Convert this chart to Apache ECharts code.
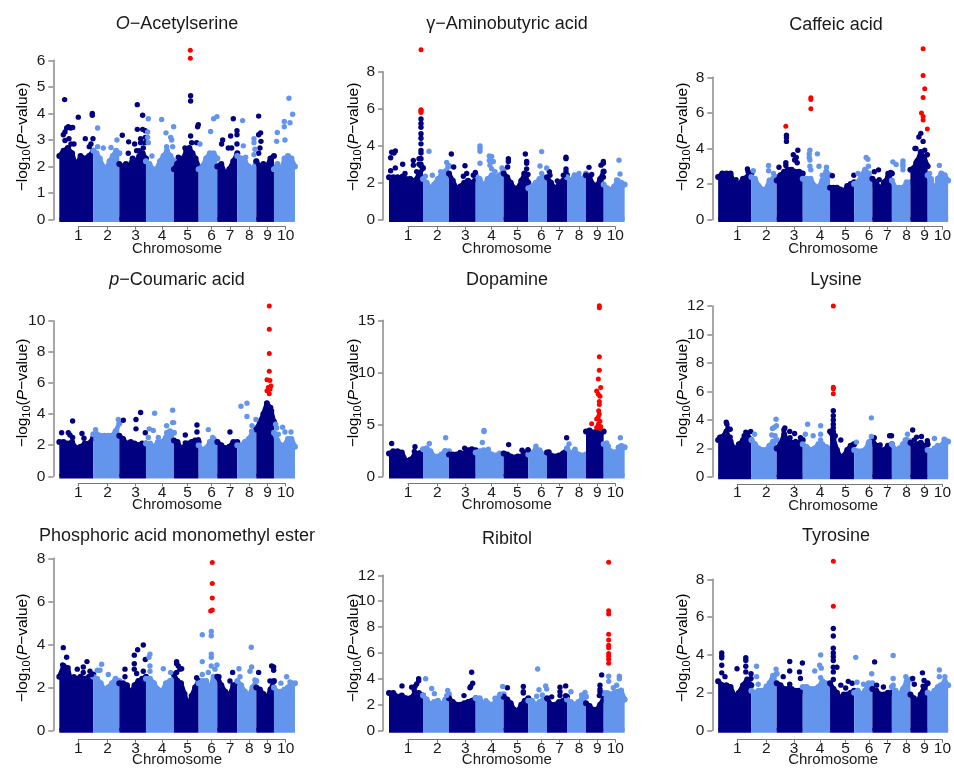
<!DOCTYPE html>
<html>
<head>
<meta charset="utf-8">
<style>html,body{margin:0;padding:0;background:#fff}#c{width:954px;height:768px}</style>
<script src="https://cdn.jsdelivr.net/npm/echarts@6/dist/echarts.min.js"></script>
</head>
<body>
<div id="c"></div>
<script>
// ---- shared axis data ----
const chromLabels = ['1','2','3','4','5','6','7','8','9','10'];
const chromTicks = [57,145,229,308,385,457,512,570,625,679];
const chromStarts = [0,102,180,260,344,418,474,534,591,644,707];

// ---- O-Acetylserine ----
const oasEnvelope = [[2.4,2.6,2.7,2.5,2.0,2.4,2.3,2.4,2.6],[2.6,2.5,2.3,2.0,1.9,2.2,2.4,2.6,2.5],[2.1,2.0,2.1,2.0,2.3,2.2,2.4,2.5,2.3],[2.2,2.1,1.9,1.9,2.2,2.4,2.6,2.4,2.2],[1.9,2.1,2.3,2.3,2.6,2.7,2.5,2.3,2.0],[1.9,2.0,2.3,2.5,2.5,2.3],[2.0,2.1,1.7,1.9,2.2,2.5],[2.4,2.3,2.2,2.0,1.9,2.2],[2.2,2.0,2.1,2.0,2.3,2.4],[1.9,2.1,1.8,2.3,2.4,2.3,2.0]];
const oasPoints = [[16,4.52],[12,3.2],[17,3.3],[22,3.45],[27,3.5],[34,3.45],[40,3.47],[17,2.98],[29,3.05],[35,2.85],[44,2.85],[57,3.86],[78,3.05],[99,4.0],[99,3.93],[101,3.05],[90,2.75],[27,2.7],[95,2.85],[115,3.45],[115,2.75],[132,2.7],[155,2.72],[173,3.0],[189,3.18],[208,2.93],[226,2.85],[234,4.33],[234,3.4],[250,3.93],[250,3.4],[244,3.05],[244,2.9],[258,3.35],[258,3.1],[207,2.5],[232,2.6],[240,2.6],[252,2.7],[257,2.9],[267,3.8],[265,3.3],[265,3.1],[267,2.9],[278,2.4],[307,3.77],[320,3.27],[334,3.1],[343,3.5],[337,3.0],[322,2.75],[340,2.75],[394,4.67],[394,4.47],[394,3.15],[417,3.58],[415,3.5],[397,2.9],[377,2.7],[412,2.9],[357,2.35],[422,2.85],[454,3.32],[463,3.8],[473,3.88],[522,3.8],[533,3.35],[533,3.2],[514,3.15],[490,3.0],[487,2.85],[533,2.85],[517,2.7],[507,2.7],[550,3.73],[552,2.78],[559,2.35],[584,3.05],[584,2.9],[587,2.65],[584,2.45],[598,3.9],[604,3.27],[598,3.2],[605,2.95],[602,2.7],[598,2.5],[654,3.28],[652,2.95],[675,3.7],[675,3.5],[677,3.0],[689,4.57],[692,3.65],[700,3.97]];
const oasSignificant = [[393,6.38],[393,6.08]];

// ---- gamma-Aminobutyric acid ----
const gabaEnvelope = [[2.3,2.3,2.3,2.1,2.2,2.2,2.1,2.4,2.8],[2.2,2.0,1.7,1.9,2.2,2.4,2.6,2.9],[2.5,2.1,1.7,1.8,2.0,2.1,2.0,2.2],[2.4,2.2,1.8,2.2,2.4,2.3,2.4,2.7],[2.5,2.3,2.0,1.7,1.7,2.1,2.5,2.0],[1.7,1.8,2.0,2.2,2.3,2.1],[2.3,2.0,1.7,1.9,2.1,2.4],[2.3,2.1,2.4,2.3,2.2,2.5],[2.4,2.3,1.9,1.8,2.2,2.6],[1.9,1.7,1.6,1.8,2.1,2.0,1.9]];
const gabaPoints = [[5,3.35],[8,3.65],[19,3.72],[15,3.6],[5,2.65],[19,2.8],[41,3.0],[48,2.5],[40,2.35],[73,3.2],[73,2.95],[63,2.2],[83,2.6],[90,3.0],[90,3.3],[96,5.45],[96,5.2],[96,5.0],[96,4.65],[96,4.4],[96,4.1],[96,3.75],[96,3.6],[96,3.3],[96,3.0],[96,2.9],[120,3.7],[130,2.4],[109,2.35],[155,2.6],[173,3.1],[177,2.9],[155,2.35],[187,3.55],[194,2.85],[228,2.92],[233,2.5],[223,2.35],[259,2.55],[253,2.4],[273,3.98],[273,3.85],[273,3.7],[273,3.05],[301,3.45],[308,3.42],[301,3.2],[313,3.15],[303,2.95],[308,2.75],[318,2.6],[339,2.8],[298,2.2],[358,3.3],[358,3.15],[356,2.85],[409,3.55],[413,3.15],[413,3.05],[413,2.75],[405,2.5],[417,2.45],[458,3.68],[453,2.9],[458,2.5],[473,2.8],[481,2.6],[483,2.4],[505,2.1],[531,3.38],[531,3.3],[531,2.75],[531,2.6],[523,2.4],[570,2.5],[600,2.83],[608,2.45],[643,3.15],[643,3.05],[636,2.95],[643,2.6],[643,2.3],[690,3.22],[693,2.47],[683,2.15]];
const gabaSignificant = [[96,9.19],[96,5.95],[96,5.91],[96,5.85],[96,5.8]];

// ---- Caffeic acid ----
const caffeicEnvelope = [[2.4,2.6,2.6,2.6,1.9,2.0,2.3,2.4,2.6],[2.4,2.3,1.9,1.7,1.7,2.2,2.3,2.4],[2.2,2.5,2.7,2.8,2.8,2.7,2.7,2.6],[2.3,2.3,2.3,1.9,1.8,2.2,2.7,2.5],[1.8,1.8,1.8,1.7,1.6,1.9,2.0,2.1],[2.0,2.1,2.5,2.8,2.6,2.0],[2.3,2.1,1.7,2.1,2.4,2.6],[2.2,1.8,1.8,1.8,2.1,2.1],[2.8,2.9,3.3,3.8,3.5,3.0],[2.5,2.2,1.5,2.3,2.6,2.5,2.2]];
const caffeicPoints = [[55,2.25],[90,2.85],[92,2.7],[108,2.75],[155,3.05],[155,2.75],[170,2.6],[187,2.95],[210,4.75],[210,4.6],[210,4.4],[208,3.2],[208,3.05],[245,3.9],[231,3.65],[240,3.5],[235,3.35],[243,3.2],[282,3.9],[280,3.7],[305,3.7],[280,3.5],[282,3.35],[282,3.0],[310,3.0],[285,2.8],[333,2.95],[320,2.5],[351,2.47],[417,2.5],[430,2.6],[455,3.5],[460,3.4],[462,3.0],[450,2.5],[480,2.7],[493,2.8],[495,2.25],[530,2.65],[522,2.6],[537,3.25],[547,3.1],[568,3.3],[568,3.15],[568,3.0],[568,2.8],[608,3.2],[608,4.0],[605,4.0],[623,4.85],[617,4.65],[630,4.4],[643,3.65],[635,3.9],[680,3.05],[650,2.6],[655,2.3]];
const caffeicSignificant = [[208,5.25],[285,6.85],[285,6.75],[285,6.23],[630,9.6],[630,8.1],[635,7.35],[630,6.87],[625,6.0],[630,5.8],[630,5.6],[643,5.1]];

// ---- p-Coumaric acid ----
const coumaricEnvelope = [[2.2,2.2,2.1,2.2,1.8,1.9,2.1,2.1,2.5],[2.7,2.7,2.6,2.6,2.6,2.6,2.9,3.4],[2.6,2.4,2.1,2.2,2.1,2.0,2.1,2.1],[2.1,2.1,1.9,2.2,2.2,2.5,2.9,2.8],[2.3,2.2,1.8,1.9,2.1,2.2,2.3,2.2],[2.0,1.7,1.8,2.2,2.4,2.2],[2.2,2.0,1.8,1.9,2.2,2.2],[2.0,2.0,2.2,2.4,2.8,3.1],[3.0,3.5,4.0,4.7,4.4,3.5],[2.8,2.3,2.0,2.0,2.4,2.4,1.9]];
const coumaricPoints = [[7,2.8],[27,2.8],[32,2.65],[40,3.55],[40,2.5],[68,2.75],[74,2.45],[109,3.0],[177,3.65],[192,3.6],[230,3.65],[230,3.05],[244,4.1],[258,2.8],[270,3.05],[282,2.95],[286,4.05],[297,2.5],[267,2.5],[322,3.25],[322,2.8],[340,4.25],[340,3.45],[343,3.45],[378,2.65],[378,2.15],[413,3.3],[413,2.85],[417,2.35],[447,3.0],[460,2.5],[454,2.1],[512,2.85],[545,4.5],[563,4.7],[563,3.85],[578,3.25],[590,3.65],[577,2.9],[612,3.4],[637,4.2],[622,4.0],[649,3.35],[652,3.1],[670,3.15],[677,2.85],[695,2.85],[657,2.7]];
const coumaricSignificant = [[630,10.95],[630,9.45],[630,7.9],[630,6.75],[623,6.2],[632,6.15],[635,5.8],[627,5.7],[632,5.6],[623,5.5],[630,5.3]];

// ---- Dopamine ----
const dopamineEnvelope = [[2.2,2.4,2.4,2.3,1.5,1.6,2.0,2.2,2.5],[2.6,2.7,2.4,1.9,1.9,2.1,2.4,2.4],[2.1,2.1,2.1,2.1,2.2,2.5,2.6,2.5],[2.3,2.4,2.5,2.4,2.1,2.0,2.2,2.2],[2.2,2.1,1.9,1.8,1.9,1.9,2.3,2.4],[2.1,2.2,2.6,2.5,2.1,2.1],[2.3,2.0,1.9,2.0,2.2,2.6],[2.7,2.2,2.4,2.1,2.0,2.1],[4.3,4.4,4.2,4.3,4.4,4.3],[3.1,2.7,2.4,2.3,2.4,2.9,2.8]];
const dopaminePoints = [[8,3.15],[78,2.85],[76,2.4],[121,3.15],[170,3.7],[168,2.45],[227,2.7],[213,2.3],[285,4.3],[285,4.4],[280,3.25],[298,2.6],[359,3.05],[399,2.5],[417,2.55],[441,2.9],[480,2.35],[533,3.7],[540,3.1],[558,2.6],[653,3.2],[658,2.9],[694,3.7],[698,2.95],[688,2.8]];
const dopamineSignificant = [[631,16.4],[631,16.2],[631,11.5],[631,10.2],[628,9.35],[635,8.55],[623,8.2],[628,7.9],[633,7.7],[631,7.2],[631,6.9],[629,6.3],[631,6.0],[628,5.7],[623,5.5],[633,5.3],[628,5.0],[635,4.8],[608,5.05],[633,4.6],[623,4.7]];

// ---- Lysine ----
const lysineEnvelope = [[2.6,2.8,3.2,2.5,1.9,2.3,2.6,3.0,2.6],[2.6,2.3,2.0,1.9,1.9,2.2,2.5,2.6],[2.0,2.3,3.0,2.5,2.4,2.4,2.4,2.6],[2.3,2.1,1.9,2.0,2.3,2.3,2.1,2.0],[3.2,2.7,1.9,1.4,1.5,1.9,2.2,2.3],[1.9,1.8,1.8,1.9,2.4,2.3],[2.6,2.2,1.9,1.9,2.2,2.3],[2.3,1.9,2.0,2.3,2.6,2.5],[2.4,2.2,2.3,2.4,2.2,2.3],[1.9,1.8,2.0,2.2,2.2,2.6,2.5]];
const lysinePoints = [[25,3.85],[27,3.7],[30,3.4],[37,3.35],[5,2.8],[15,2.85],[37,2.8],[85,3.15],[80,2.9],[100,3.2],[112,3.0],[178,4.05],[179,3.6],[167,3.4],[173,3.5],[165,2.95],[175,2.9],[205,3.45],[202,3.3],[220,3.2],[221,2.75],[235,3.05],[238,2.5],[253,2.75],[275,3.7],[268,3.0],[292,2.9],[315,3.6],[315,3.0],[315,2.6],[354,4.65],[354,4.3],[354,4.0],[354,3.7],[354,3.45],[354,3.2],[354,3.1],[360,2.9],[377,2.6],[417,2.3],[425,2.45],[471,4.15],[471,2.85],[465,2.5],[480,2.75],[498,2.25],[533,2.9],[527,2.9],[582,3.0],[575,2.6],[598,3.3],[610,2.8],[625,2.85],[608,2.2],[603,2.6],[643,2.55],[665,2.7],[695,2.65]];
const lysineSignificant = [[354,12.0],[354,6.3],[354,6.2],[354,5.85]];

// ---- Phosphoric acid monomethyl ester ----
const phosphoricEnvelope = [[2.5,3.0,2.9,2.1,2.4,2.5,2.4,2.5,2.6],[2.5,2.4,2.2,1.9,2.0,2.2,2.4,2.3],[2.2,2.2,2.1,1.7,2.1,2.3,2.4,2.5],[2.4,2.4,2.2,1.9,1.8,2.2,2.3,2.4],[2.6,2.3,2.2,1.7,1.1,1.6,2.0,2.3],[2.2,2.3,2.3,1.9,2.5,2.5],[2.5,2.1,1.8,1.6,2.1,2.2],[2.3,2.1,1.8,1.6,2.0,2.3],[2.0,1.9,1.7,1.5,1.9,2.3],[2.0,1.8,1.8,1.9,2.0,2.2,2.2]];
const phosphoricPoints = [[12,3.85],[22,3.4],[10,3.05],[54,2.85],[44,2.5],[72,2.95],[72,2.7],[83,3.2],[92,2.75],[97,2.6],[114,2.8],[127,3.08],[147,2.6],[122,2.8],[197,2.85],[197,2.5],[225,3.5],[225,3.1],[225,2.85],[235,3.75],[252,3.97],[258,3.3],[252,2.75],[232,2.65],[272,3.55],[269,3.4],[272,3.0],[272,2.75],[312,2.87],[334,2.7],[352,3.2],[357,3.0],[352,2.7],[367,2.87],[362,2.85],[412,2.45],[352,3.1],[429,4.45],[429,3.2],[429,2.6],[456,4.6],[456,4.4],[456,3.55],[456,3.4],[456,3.0],[467,2.85],[447,2.7],[473,3.05],[479,2.5],[520,2.7],[512,2.3],[539,2.87],[542,2.5],[576,3.87],[577,2.95],[572,2.75],[587,2.35],[598,2.7],[637,3.0],[643,2.95],[643,2.8],[632,2.3],[682,2.5],[665,2.2],[692,2.25]];
const phosphoricSignificant = [[459,7.8],[459,6.83],[459,6.15],[459,5.6],[454,5.55]];

// ---- Ribitol ----
const ribitolEnvelope = [[2.9,2.9,2.6,2.7,2.5,2.5,2.8,2.9,2.7],[2.7,2.4,2.0,2.2,2.3,2.0,2.4,2.8],[2.5,2.2,2.0,2.0,2.1,2.2,2.3,2.5],[2.5,2.5,2.0,2.1,2.0,2.2,2.7,2.8],[2.6,2.4,2.1,1.6,1.5,2.0,2.3,2.5],[2.3,2.3,2.0,2.2,2.4,2.3],[2.5,2.0,2.0,2.2,2.3,2.6],[2.4,2.2,2.0,2.2,2.5,2.6],[2.1,1.9,1.6,1.6,2.0,2.5],[2.9,2.9,2.8,2.9,3.0,3.1,2.4]];
const ribitolPoints = [[39,3.45],[68,3.35],[78,3.4],[89,4.0],[89,3.85],[83,3.6],[76,3.1],[110,4.0],[128,3.25],[136,2.85],[176,3.1],[173,2.7],[225,2.7],[248,4.5],[251,3.65],[245,3.4],[243,3.3],[341,3.4],[291,2.3],[318,2.5],[333,2.8],[355,3.3],[403,3.4],[403,3.0],[403,2.9],[446,4.75],[450,3.15],[470,3.45],[473,3.2],[460,2.75],[443,2.65],[488,2.6],[513,3.35],[513,3.0],[513,2.7],[530,3.45],[530,2.7],[546,3.0],[588,2.95],[578,2.75],[638,4.3],[633,3.5],[633,3.2],[633,3.0],[631,2.7],[659,4.2],[691,4.2],[691,4.0],[659,3.8],[683,3.5],[673,3.3]];
const ribitolSignificant = [[659,13.0],[659,9.25],[659,9.0],[659,7.45],[659,7.0],[659,6.6],[659,6.4],[659,5.95],[659,5.75],[659,5.5],[659,5.2]];

// ---- Tyrosine ----
const tyrosineEnvelope = [[2.6,2.4,2.4,2.3,1.8,2.0,2.4,2.7,2.4],[2.1,2.0,2.1,2.1,2.2,2.5,2.9,3.0],[2.5,2.4,2.2,2.2,2.2,2.1,2.1,2.1],[2.3,2.3,2.2,2.2,2.3,2.6,2.5,2.2],[2.5,2.2,2.0,1.7,1.9,1.9,2.0,2.1],[2.0,2.1,1.9,2.1,2.5,2.5],[2.2,2.1,1.9,1.9,2.0,2.0],[2.3,2.1,1.9,2.2,2.6,2.7],[1.9,1.7,1.5,1.9,2.3,2.5],[2.0,1.9,2.1,2.3,2.4,2.6,2.4]];
const tyrosinePoints = [[11,4.1],[11,3.95],[11,3.85],[11,3.45],[11,3.05],[21,2.85],[58,3.27],[85,3.85],[85,3.7],[85,3.4],[85,3.1],[101,3.0],[101,2.75],[118,3.4],[118,2.85],[123,2.45],[148,2.35],[178,3.25],[200,2.85],[220,3.65],[220,3.15],[250,3.1],[253,2.75],[259,3.57],[220,2.45],[297,3.15],[315,4.0],[312,3.45],[317,3.3],[315,2.8],[354,5.4],[354,5.0],[354,4.35],[354,4.1],[354,3.9],[354,3.7],[354,3.35],[354,3.1],[354,2.7],[365,3.35],[377,2.4],[400,2.6],[392,2.25],[412,2.5],[423,3.87],[427,2.55],[447,2.45],[472,3.0],[481,3.63],[487,2.4],[508,2.3],[538,3.97],[538,2.75],[577,2.85],[538,2.4],[598,2.75],[603,2.45],[628,3.05],[633,2.65],[630,2.35],[680,3.2],[680,2.85],[697,2.85],[683,2.4]];
const tyrosineSignificant = [[354,8.95],[354,6.58]];

// ---- panel text and y scales ----
const panelTitles = ['{i|O}{n|−Acetylserine}','{n|γ−Aminobutyric acid}','{n|Caffeic acid}','{i|p}{n|−Coumaric acid}','{n|Dopamine}','{n|Lysine}','{n|Phosphoric acid monomethyl ester}','{n|Ribitol}','{n|Tyrosine}'];
const yMaxima = [6,8,8,10,15,12,8,12,8];
const yIntervals = [1,2,2,2,5,2,2,2,2];
const envelopes = [oasEnvelope,gabaEnvelope,caffeicEnvelope,coumaricEnvelope,dopamineEnvelope,lysineEnvelope,phosphoricEnvelope,ribitolEnvelope,tyrosineEnvelope];
const pointSets = [oasPoints,gabaPoints,caffeicPoints,coumaricPoints,dopaminePoints,lysinePoints,phosphoricPoints,ribitolPoints,tyrosinePoints];
const significantSets = [oasSignificant,gabaSignificant,caffeicSignificant,coumaricSignificant,dopamineSignificant,lysineSignificant,phosphoricSignificant,ribitolSignificant,tyrosineSignificant];

// ---- layout (pixels) ----
const gridLefts = [53.3,383,712.3];
const gridTops = [60.3,71.7,77.3,320.7,320.3,306,558.3,575.3,579.3];
const gridBottoms = [219.7,219.7,219.7,476.3,476.3,477,732.7,732.7,732.7];
const titleCentersX = [177,507,836];
const titleCentersY = [24,24,25,280,280,280,536,539,536];
const yNameX = [22.5,353.5,682.5];
const yNameY = [137,393,648];
const NAVY='#000080', LIGHT='#6495ED', RED='#FF0000', GRAY='#8a8a8a', INK='#1a1a1a';
const FONT='"Liberation Sans", Arial, sans-serif';
const PX=1/3, PAD=18, XMAX=707;

const colorOf = i => i%2===0 ? NAVY : LIGHT;
const chromIndex = x => { for(let i=0;i<10;i++) if(x<chromStarts[i+1]) return i; return 9; };

const option = {animation:false,backgroundColor:'#fff',title:[],grid:[],xAxis:[],yAxis:[],series:[],graphic:[]};
const nameRich = {n:{fontSize:15.5,fontFamily:FONT,color:INK,lineHeight:20,verticalAlign:'middle'},
  s:{fontSize:11,fontFamily:FONT,color:INK,lineHeight:20,verticalAlign:'bottom',padding:[6,0,0,0]},
  i:{fontSize:15.5,fontFamily:FONT,fontStyle:'italic',color:INK,lineHeight:20,verticalAlign:'middle'}};

envelopes.forEach((env,p)=>{
  const col=p%3,row=Math.floor(p/3);
  const left=gridLefts[col],top=gridTops[p],bottom=gridBottoms[p];
  const width=(XMAX+2*PAD)*PX;
  const dataLeft=left+PAD*PX;
  const mainAxis=option.grid.length;
  option.title.push({text:panelTitles[p],left:titleCentersX[col],top:titleCentersY[p],textAlign:'center',textVerticalAlign:'middle',padding:0,
    textStyle:{fontWeight:'normal',rich:{n:{fontSize:18,fontWeight:'normal',fontFamily:FONT,color:INK},i:{fontSize:18,fontWeight:'normal',fontFamily:FONT,fontStyle:'italic',color:INK}}}});
  option.grid.push({left,top,width,height:bottom-top,containLabel:false});
  option.xAxis.push({gridIndex:mainAxis,type:'value',min:-PAD,max:XMAX+PAD,
    axisLine:{show:false},axisTick:{show:false},axisLabel:{show:false},splitLine:{show:false},
    name:'Chromosome',nameLocation:'middle',nameGap:29,
    nameTextStyle:{fontSize:15,fontFamily:FONT,color:INK,verticalAlign:'middle'}});
  option.yAxis.push({gridIndex:mainAxis,type:'value',min:0,max:yMaxima[p],interval:yIntervals[p],
    splitLine:{show:false},
    axisLine:{show:true,onZero:false,lineStyle:{color:GRAY,width:1.5}},
    axisTick:{show:true,length:5,lineStyle:{color:GRAY,width:1.5}},
    axisLabel:{fontSize:15.5,fontFamily:FONT,color:INK,margin:8}});
  // chromosome tick axis: the line runs from the first tick to the last, below the points
  const tickLeft=dataLeft+chromTicks[0]*PX, tickWidth=(chromTicks[9]-chromTicks[0])*PX;
  option.grid.push({left:tickLeft,top:bottom+6,width:tickWidth,height:1});
  option.xAxis.push({gridIndex:mainAxis+1,type:'value',min:chromTicks[0],max:chromTicks[9],
    splitLine:{show:false},
    axisLine:{show:true,lineStyle:{color:'#777',width:1}},
    axisTick:{show:true,length:3,customValues:chromTicks,lineStyle:{color:'#777',width:1}},
    axisLabel:{fontSize:15.5,fontFamily:FONT,color:INK,margin:1,hideOverlap:false,showMinLabel:true,showMaxLabel:true,
      customValues:chromTicks,formatter:v=>chromLabels[chromTicks.indexOf(v)]}});
  option.yAxis.push({gridIndex:mainAxis+1,type:'value',min:0,max:1,show:false});

  env.forEach((vals,c)=>{
    const s=chromStarts[c],e=chromStarts[c+1];
    const band=vals.map((v,i)=>[s+(e-s)*i/(vals.length-1),v]);
    option.series.push({type:'line',xAxisIndex:mainAxis,yAxisIndex:mainAxis,data:band,clip:false,silent:true,showSymbol:true,showAllSymbol:true,symbol:'circle',symbolSize:6,
      itemStyle:{color:colorOf(c)},
      lineStyle:{color:colorOf(c),width:4.5,cap:'butt',join:'round'},areaStyle:{color:colorOf(c),opacity:1},z:2+0.01*c});
    option.series.push({type:'line',xAxisIndex:mainAxis,yAxisIndex:mainAxis,data:[[s,0],[e,0]],clip:false,silent:true,showSymbol:false,symbol:'none',
      lineStyle:{color:colorOf(c),width:4.5,cap:'butt'},z:2+0.01*c});
  });
  const groups=[[],[]];
  pointSets[p].forEach(pt=>groups[chromIndex(pt[0])%2].push(pt));
  groups.forEach((g,i)=>option.series.push({type:'scatter',xAxisIndex:mainAxis,yAxisIndex:mainAxis,data:g,clip:false,silent:true,
    symbol:'circle',symbolSize:5.4,itemStyle:{color:i===0?NAVY:LIGHT,opacity:1},z:3}));
  option.series.push({type:'scatter',xAxisIndex:mainAxis,yAxisIndex:mainAxis,data:significantSets[p],clip:false,silent:true,
    symbol:'circle',symbolSize:5,itemStyle:{color:RED,opacity:1},z:4});
  option.graphic.push({type:'text',x:yNameX[col],y:yNameY[row],rotation:Math.PI/2,silent:true,
    style:{text:'{n|−log}{s|10}{n|(}{i|P}{n|−value)}',rich:nameRich,align:'center',verticalAlign:'middle'}});
});

const chart=echarts.init(document.getElementById('c'),null,{renderer:'canvas'});
chart.setOption(option);
</script>
</body>
</html>
